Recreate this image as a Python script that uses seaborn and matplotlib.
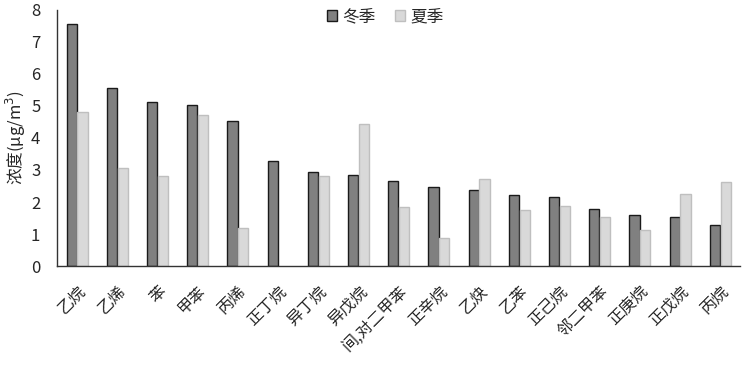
import numpy as np
import pandas as pd
import matplotlib
matplotlib.use('Agg')
import matplotlib.pyplot as plt
import seaborn as sns

species = ['乙烷', '乙烯', '苯', '甲苯', '丙烯', '正丁烷', '异丁烷', '异戊烷', '间,对二甲苯',
           '正辛烷', '乙炔', '乙苯', '正己烷', '邻二甲苯', '正庚烷', '正戊烷', '丙烷']
winter = [7.55, 5.56, 5.12, 5.03, 4.53, 3.27, 2.94, 2.83, 2.65, 2.46, 2.38, 2.22, 2.16, 1.79, 1.6, 1.54, 1.27]
summer = [4.81, 3.07, 2.8, 4.72, 1.19, 0.0, 2.82, 4.43, 1.85, 0.89, 2.73, 1.76, 1.89, 1.53, 1.14, 2.25, 2.61]
seasons = ['冬季', '夏季']

sns.set_style('white')
plt.rcParams['font.family'] = ['Noto Sans CJK SC', 'DejaVu Sans']

df = pd.DataFrame({
    'species': species * 2,
    'value': winter + summer,
    'season': [seasons[0]] * len(species) + [seasons[1]] * len(species),
})

fig = plt.figure(figsize=(7.46, 3.65), dpi=100)
ax = fig.add_axes([0.0764, 0.271, 0.916, 0.702])

sns.barplot(data=df, x='species', y='value', hue='season', hue_order=seasons,
            palette={'冬季': '#808080', '夏季': '#d9d9d9'}, width=0.54, gap=0.06,
            ax=ax, errorbar=None, saturation=1)

edges = ['#1a1a1a', '#bfbfbf']
for cont, ec in zip(ax.containers, edges):
    for bar in cont:
        bar.set_edgecolor(ec)
        bar.set_linewidth(1.0)
        if bar.get_height() == 0:
            bar.set_visible(False)

ax.set_ylim(0, 8)
ax.set_xlim(-0.5, len(species) - 0.5)
ax.set_yticks(range(0, 9))
ax.set_xlabel('')
ax.set_ylabel('浓度(μg/m$^3$)', fontsize=12, labelpad=2)
ax.tick_params(axis='y', length=0, labelsize=12, pad=12)
ax.tick_params(axis='x', which='major', length=0, labelsize=11.5, pad=12)
ax.set_xticks(np.arange(-0.5, len(species), 1), minor=True)
ax.tick_params(axis='x', which='minor', length=4, direction='in', width=1, color='#333333')
ax.set_xticks(range(len(species)))
ax.set_xticklabels(species, rotation=45, ha='right', rotation_mode='anchor')

for s in ['top', 'right']:
    ax.spines[s].set_visible(False)
for s in ['left', 'bottom']:
    ax.spines[s].set_color('#333333')
    ax.spines[s].set_linewidth(1.0)

leg = ax.legend(loc='upper center', bbox_to_anchor=(0.48, 1.065), ncol=2, frameon=False,
                fontsize=12, handlelength=0.6, handleheight=0.6, handletextpad=0.3,
                columnspacing=1.2)
for h, ec in zip(leg.legend_handles, edges):
    h.set_edgecolor(ec)

fig.savefig('out.png', dpi=100)
